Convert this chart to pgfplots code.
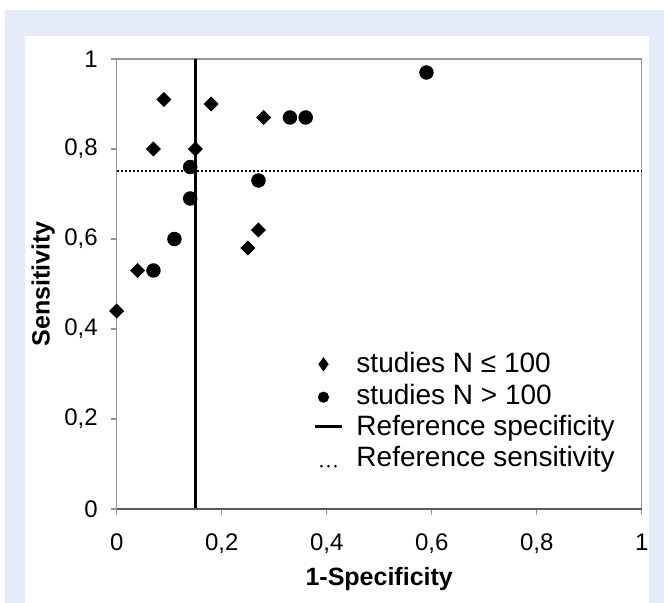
\documentclass[border=0pt]{standalone}
\usepackage{fontspec}
\setmainfont{Liberation Sans}
\usepackage{pgfplots}
\pgfplotsset{compat=1.18}
\definecolor{bgblue}{RGB}{229,236,248}
\definecolor{axgray}{RGB}{150,150,150}

\pgfplotstableread{
x y
0.09 0.91
0.18 0.90
0.28 0.87
0.07 0.80
0.15 0.80
0.27 0.62
0.25 0.58
0.04 0.53
0.00 0.44
}\small

\pgfplotstableread{
x y
0.59 0.97
0.33 0.87
0.36 0.87
0.14 0.76
0.27 0.73
0.14 0.69
0.11 0.60
0.07 0.53
}\large

\begin{document}
\begin{tikzpicture}
\useasboundingbox (0,0) rectangle (332pt,301.5pt);
\fill[white] (0,0) rectangle (332pt,301.5pt);
\fill[bgblue] (2.5pt,0) rectangle (332pt,296.5pt);
\fill[white] (12.5pt,0) rectangle (324.5pt,283.5pt);
\begin{axis}[
  at={(58.35pt,47pt)}, anchor=south west,
  scale only axis, width=262.5pt, height=225pt,
  xmin=0, xmax=1, ymin=0, ymax=1,
  xtick={0,0.2,0.4,0.6,0.8,1},
  ytick={0,0.2,0.4,0.6,0.8,1},
  xticklabels={0,{0,2},{0,4},{0,6},{0,8},1},
  yticklabels={0,{0,2},{0,4},{0,6},{0,8},1},
  xtick pos=bottom, ytick pos=left,
  tick align=outside, major tick length=3pt,
  tick style={axgray, line width=0.6pt},
  axis line style={axgray, line width=0.7pt},
  ticklabel style={font=\fontsize{12}{14}\selectfont},
  xticklabel style={yshift=-6pt},
  yticklabel style={xshift=-3pt},
  xlabel={\textbf{1-Specificity}},
  ylabel={\textbf{Sensitivity}},
  label style={font=\fontsize{12.5}{14}\selectfont},
  xlabel style={at={(axis description cs:0.5,-0.155)}, anchor=center},
  ylabel style={at={(axis description cs:-0.14,0.5)}, anchor=center},
  legend style={at={(axis description cs:0.375,0.355)}, anchor=north west,
    draw=none, fill=none, font=\fontsize{14}{16}\selectfont,
    row sep=1pt, inner sep=0pt,
    nodes={inner sep=1.5pt}},
  legend cell align=left,
  clip=false,
]
\addplot[only marks, mark=square*, mark size=2.45pt, mark options={rotate=45, fill=black, draw=black},
  legend image code/.code={\path[draw=none, fill=none] (0pt,-2pt) rectangle (19pt,2pt);
    \fill[black, draw=none] (4pt,3.6pt) -- (6.6pt,0) -- (4pt,-3.6pt) -- (1.4pt,0) -- cycle;}]
  table[x=x, y=y] {\small};
\addlegendentry{studies N ≤ 100}
\addplot[only marks, mark=*, mark size=3.4pt, mark options={fill=black, draw=black},
  legend image code/.code={\path[draw=none, fill=none] (0pt,-2pt) rectangle (19pt,2pt);
    \fill[black, draw=none] (4pt,-0.8pt) circle (2.8pt);}]
  table[x=x, y=y] {\large};
\addlegendentry{studies N > 100}
\addplot[black, line width=1.35pt, no marks,
  legend image code/.code={\path[draw=none, fill=none] (0pt,-2pt) rectangle (19pt,2pt);
    \draw[black, line width=1.5pt] (0pt,0) -- (13.5pt,0);}]
  coordinates {(0.15,0) (0.15,1)};
\addlegendentry{Reference specificity}
\addplot[black, densely dotted, line width=1pt, no marks,
  legend image code/.code={\path[draw=none, fill=none] (0pt,-2pt) rectangle (19pt,2pt);
    \foreach \d in {3pt,6.5pt,10pt} \fill[black, draw=none] (\d,-4pt) circle (0.7pt);}]
  coordinates {(0,0.75) (1,0.75)};
\addlegendentry{Reference sensitivity}
\draw[black!65, line width=0.7pt] (rel axis cs:0,0) -- (rel axis cs:1,0);
\end{axis}
\end{tikzpicture}
\end{document}
